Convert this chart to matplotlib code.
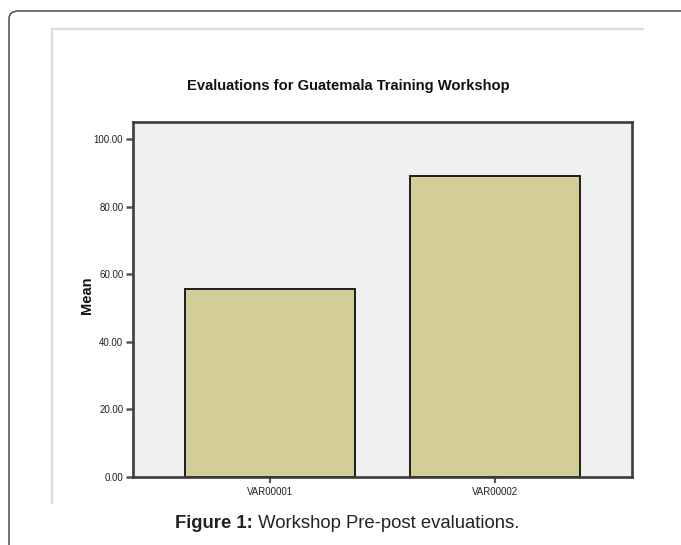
import matplotlib
matplotlib.use("Agg")
import matplotlib.pyplot as plt
from matplotlib.patches import FancyBboxPatch
from matplotlib.lines import Line2D

plt.rcParams['font.family'] = ['Liberation Sans', 'DejaVu Sans']

categories = ["VAR00001", "VAR00002"]
means = [55.5, 89.0]
yticks = [0, 20, 40, 60, 80, 100]
title = "Evaluations for Guatemala Training Workshop"
ylabel = "Mean"
caption_bold = "Figure 1:"
caption_rest = " Workshop Pre-post evaluations."

W, H = 681, 545
fig = plt.figure(figsize=(W / 100, H / 100), dpi=100)

def fx(px):
    return px / W

def fy(py):
    return 1 - py / H

# outer rounded frame (cut off right and bottom)
frame = FancyBboxPatch((fx(9), fy(560)), fx(700) - fx(9), fy(11) - fy(560),
                       boxstyle="round,pad=0,rounding_size=0.014",
                       transform=fig.transFigure, fill=False,
                       edgecolor="#4a4a4a", linewidth=1.1, zorder=-2)
fig.patches.append(frame)

# inner panel: only top and left edges visible
fig.lines.append(Line2D([fx(52), fx(643)], [fy(29), fy(29)], transform=fig.transFigure,
                        color="#dcdcdc", linewidth=1.6, zorder=-1))
fig.lines.append(Line2D([fx(52), fx(52)], [fy(29), fy(503)], transform=fig.transFigure,
                        color="#dcdcdc", linewidth=1.6, zorder=-1))

ax = fig.add_axes([fx(133), fy(477), fx(632) - fx(133), fy(122) - fy(477)])
ax.set_zorder(2)
ax.set_facecolor("#f0f0f0")
x = list(range(len(categories)))
ax.bar(x, means, width=0.756, color="#d3ce97", edgecolor="#1e1e1e",
       linewidth=1.4, zorder=2)
ax.set_xlim(-0.609, 1.609)
ax.set_ylim(0, 105)
ax.set_yticks(yticks)
ax.set_yticklabels([f"{v:.2f}" for v in yticks], fontsize=7, color="#222222")
ax.set_xticks(x)
ax.set_xticklabels(categories, fontsize=7, color="#222222")
for s in ax.spines.values():
    s.set_color("#3c3c3c")
    s.set_linewidth(1.9)
ax.tick_params(axis="y", length=5, width=1.8, color="#555555", pad=2)
ax.tick_params(axis="x", length=4, width=1.5, color="#555555", pad=3)

fig.text(fx(348), fy(86), title, fontsize=10.6, fontweight="bold",
         ha="center", va="center", color="#111111")
fig.text(fx(87), fy(295), ylabel, fontsize=10.5, fontweight="bold",
         rotation=90, ha="center", va="center", color="#111111")

# caption: bold part + regular part
fig.canvas.draw()
r = fig.canvas.get_renderer()
t1 = fig.text(0, fy(523), caption_bold, fontsize=13.3, fontweight="bold",
              ha="left", va="center", color="#222222")
t2 = fig.text(0, fy(523), caption_rest, fontsize=13.3,
              ha="left", va="center", color="#222222")
w1 = t1.get_window_extent(r).width
w2 = t2.get_window_extent(r).width
start = 347 - (w1 + w2) / 2
t1.set_x(fx(start))
t2.set_x(fx(start + w1))

fig.savefig("out.png", dpi=100)
